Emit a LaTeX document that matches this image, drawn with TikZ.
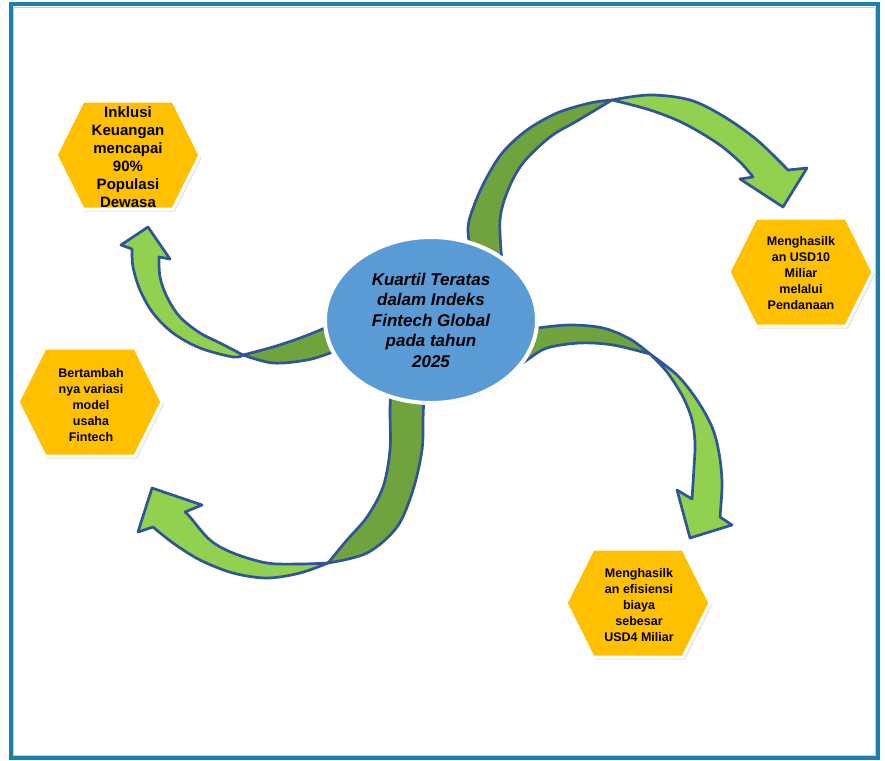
\documentclass[tikz,border=0pt]{standalone}
\usepackage{fontspec}
\setmainfont{Liberation Sans}
\usetikzlibrary{shadows}
\definecolor{frameteal}{RGB}{24,128,170}
\definecolor{framelight}{RGB}{175,215,235}
\definecolor{hexgold}{RGB}{255,192,0}
\definecolor{hubblue}{RGB}{91,155,213}
\definecolor{armlight}{RGB}{146,208,80}
\definecolor{armdark}{RGB}{112,163,62}
\definecolor{armline}{RGB}{47,85,151}

\begin{document}
\begin{tikzpicture}[x=1pt,y=-1pt,
  armside/.style={draw=armline, line width=2.7pt, line join=round},
  lightarm/.style={armside, fill=armlight},
  darkarm/.style={armside, fill=armdark},
  curve/.style={smooth, tension=0.55},
  hexpanel/.style={fill=hexgold, draw=white, line width=3pt,
    drop shadow={opacity=0.22, shadow xshift=2pt, shadow yshift=-2.5pt}},
  hextext/.style={align=center, inner sep=0pt,
    font=\fontsize{12.5}{15.8}\selectfont\bfseries},
  bigtext/.style={align=center, inner sep=0pt,
    font=\fontsize{15}{18}\selectfont\bfseries},
  hubtext/.style={align=center, inner sep=0pt,
    font=\fontsize{17}{20.5}\selectfont\bfseries\itshape}
]
\useasboundingbox (0,0) rectangle (885,760);

% outer frame
\draw[frameteal, line width=4pt] (10.5,4.5) rectangle (878,758);
\draw[framelight, line width=0.8pt] (13.5,7.5) rectangle (875,755);

% ---- arm towards the upper right ----
\filldraw[darkarm]
  plot[curve] coordinates {(472,260) (468,228) (475,203) (487,177) (503,152) (527,130) (557,113) (590,103) (612,100)}
  -- plot[curve] coordinates {(612,100) (577,121) (550,137) (523,163) (508,190) (500,220) (502,262)}
  -- cycle;
\filldraw[lightarm]
  plot[curve] coordinates {(612,100) (650,95) (690,100) (723,116) (757,140) (788,170)}
  -- (807,168) -- (783,207) -- (740,179) -- (753,177)
  -- plot[curve] coordinates {(753,177) (740,162) (717,143) (683,123) (650,110) (612,100)}
  -- cycle;

% ---- arm towards the lower right ----
\filldraw[darkarm]
  plot[curve] coordinates {(505,332) (537,328) (570,325) (603,328) (630,339) (650,354)}
  -- plot[curve] coordinates {(650,354) (613,345) (580,343) (547,348) (527,360) (505,375)}
  -- cycle;
\filldraw[lightarm]
  plot[curve] coordinates {(650,354) (677,375) (697,400) (712,427) (719,453) (722,483) (720,517)}
  -- (732,525) -- (690,538) -- (677,490) -- (692,499)
  -- plot[curve] coordinates {(692,499) (694,467) (695,443) (692,420) (683,397) (667,372) (650,354)}
  -- cycle;

% ---- arm towards the lower left ----
\filldraw[darkarm]
  plot[curve] coordinates {(424,392) (423,420) (422,450) (413,490) (397,527) (367,553) (328,563)}
  -- plot[curve] coordinates {(328,563) (347,540) (367,517) (383,487) (390,450) (390,410) (391,388)}
  -- cycle;
\filldraw[lightarm]
  plot[curve] coordinates {(328,563) (300,573) (267,578) (233,573) (200,560) (173,543) (153,527)}
  -- (138,532) -- (152,488) -- (202,505) -- (185,512)
  -- plot[curve] coordinates {(185,512) (190,517) (210,540) (233,553) (267,563) (300,564) (328,563)}
  -- cycle;

% ---- arm towards the upper left ----
\filldraw[darkarm]
  plot[curve] coordinates {(243,355) (273,347) (300,338) (327,327) (350,315)}
  -- plot[curve] coordinates {(350,345) (333,352) (307,360) (273,363) (243,355)}
  -- cycle;
\filldraw[lightarm]
  plot[curve] coordinates {(243,355) (233,357) (200,348) (173,333) (153,313) (140,290) (133,267) (132,249)}
  -- (121,245) -- (148,227) -- (170,259) -- (159,257)
  -- plot[curve] coordinates {(159,257) (160,277) (167,297) (180,317) (200,333) (220,343) (243,355)}
  -- cycle;

% ---- central hub ----
\filldraw[fill=hubblue, draw=white, line width=4pt,
  drop shadow={opacity=0.18, shadow xshift=1.5pt, shadow yshift=-2pt}]
  (431,320) ellipse [x radius=106, y radius=83];
\node[hubtext] (hub) at (431,320)
  {Kuartil Teratas\\dalam Indeks\\Fintech Global\\pada tahun\\2025};

% ---- outcome panels ----
\coordinate (p1) at (128,155);
\coordinate (p2) at (801,272);
\coordinate (p3) at (90,402);
\coordinate (p4) at (638,603);
\foreach \c in {p1,p2,p3,p4}{
  \path[hexpanel, shift={(\c)}]
    (-72,0) -- (-45,-54) -- (45,-54) -- (72,0) -- (45,54) -- (-45,54) -- cycle;
}
\node[bigtext] (inklusi) at (128,157)
  {Inklusi\\Keuangan\\mencapai\\90\%\\Populasi\\Dewasa};
\node[hextext] (dana) at (801,273)
  {Menghasilk\\an USD10\\Miliar\\melalui\\Pendanaan};
\node[hextext] (model) at (91,405)
  {Bertambah\\nya variasi\\model\\usaha\\Fintech};
\node[hextext] (efisiensi) at (639,605)
  {Menghasilk\\an efisiensi\\biaya\\sebesar\\USD4 Miliar};
\end{tikzpicture}
\end{document}
